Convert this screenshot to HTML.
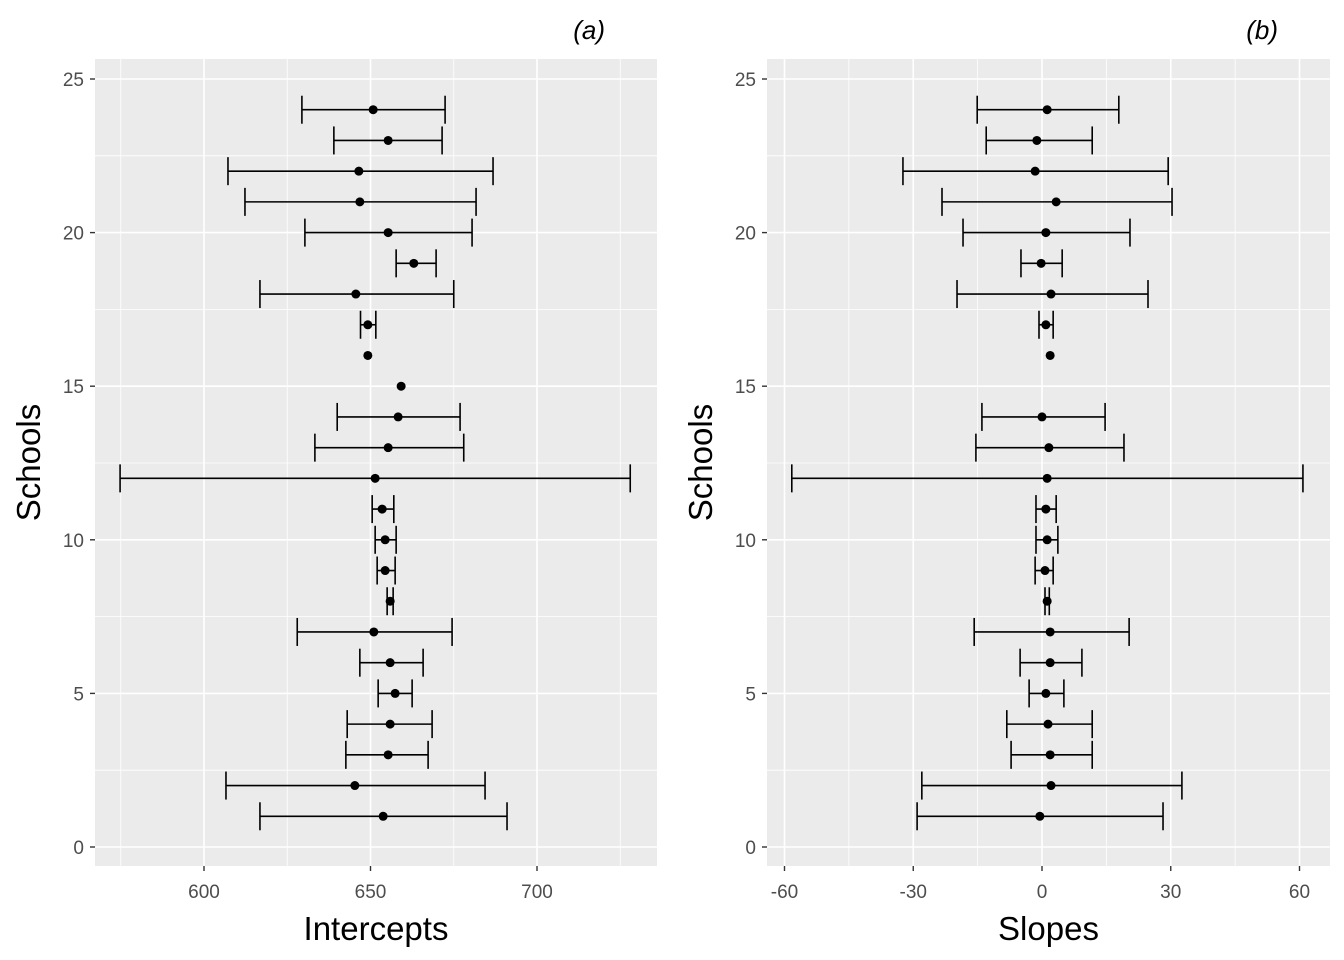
<!DOCTYPE html>
<html><head><meta charset="utf-8"><style>
body{margin:0;background:#fff;}
svg{display:block;font-family:"Liberation Sans",Arial,sans-serif;}
</style></head><body>
<svg id="c" width="1344" height="960"></svg>
<script>
const schools=[1,2,3,4,5,6,7,8,9,10,11,12,13,14,15,16,17,18,19,20,21,22,23,24];
const intPt=[653.8,645.3,655.3,655.9,657.4,655.9,651,655.9,654.4,654.4,653.5,651.4,655.3,658.3,659.2,649.2,649.2,645.6,663,655.3,646.8,646.5,655.3,650.8];
const intLo=[616.8,606.6,642.6,643,652.3,646.8,628,655,652,651.4,650.5,574.8,633.3,640,null,null,647,616.8,657.7,630.3,612.3,607.2,639,629.4];
const intHi=[691,684.4,667.3,668.5,662.5,665.8,674.5,656.8,657.4,657.7,657,728,678,676.9,null,null,651.6,675,669.7,680.5,681.7,686.8,671.5,672.4];
const slPt=[-0.5,2.1,1.9,1.4,0.9,1.9,1.9,1.2,0.7,1.2,0.9,1.2,1.6,0,null,1.9,0.9,2.1,-0.2,0.9,3.3,-1.6,-1.2,1.2];
const slLo=[-29.1,-28,-7.2,-8.2,-3,-5.1,-15.8,0.7,-1.6,-1.4,-1.4,-58.3,-15.4,-14,null,null,-0.7,-19.8,-4.9,-18.4,-23.3,-32.4,-13,-15.1];
const slHi=[28.2,32.6,11.7,11.7,5.1,9.3,20.3,1.7,2.6,3.7,3.3,60.8,19.1,14.7,null,null,2.6,24.7,4.7,20.5,30.3,29.4,11.7,17.9];
const intTicks=[600,650,700], intMinor=[575,625,675,725];
const slTicks=[-60,-30,0,30,60], slMinor=[-45,-15,15,45];
const yTicks=[0,5,10,15,20,25], yMinor=[2.5,7.5,12.5,17.5,22.5];
const svg=document.getElementById('c');
const NS='http://www.w3.org/2000/svg';
function el(t,a,p){const e=document.createElementNS(NS,t);for(const k in a)e.setAttribute(k,a[k]);(p||svg).appendChild(e);return e;}
const ys=v=>847-v*30.72;
function panel(name,L,R,x,ticks,minor,pt,lo,hi,xlab,tag){
  const g=el('g',{});
  
  
  const T=59,B=866;
  el('rect',{x:L,y:T,width:R-L,height:B-T,fill:'#ebebeb'},g);
  minor.forEach(v=>el('line',{x1:x(v),x2:x(v),y1:T,y2:B,stroke:'#fff','stroke-width':0.8},g));
  yMinor.forEach(v=>el('line',{x1:L,x2:R,y1:ys(v),y2:ys(v),stroke:'#fff','stroke-width':0.8},g));
  ticks.forEach(v=>{el('line',{x1:x(v),x2:x(v),y1:T,y2:B,stroke:'#fff','stroke-width':1.6},g);
    el('line',{x1:x(v),x2:x(v),y1:B,y2:B+5,stroke:'#333','stroke-width':1.4},g);
    const t=el('text',{x:x(v),y:B+32,'text-anchor':'middle','font-size':19,fill:'#4d4d4d'},g);t.textContent=v;
    
    });
  yTicks.forEach(v=>{el('line',{x1:L,x2:R,y1:ys(v),y2:ys(v),stroke:'#fff','stroke-width':1.6},g);
    el('line',{x1:L-5,x2:L,y1:ys(v),y2:ys(v),stroke:'#333','stroke-width':1.4},g);
    const t=el('text',{x:L-11,y:ys(v)+7,'text-anchor':'end','font-size':19,fill:'#4d4d4d'},g);t.textContent=v;
    
    });
  schools.forEach((s,i)=>{const y=ys(s);
    if(lo[i]!=null){const eb=el('g',{stroke:'#000','stroke-width':1.6},g);
      
      
      el('line',{x1:x(lo[i]),x2:x(hi[i]),y1:y,y2:y},eb);
      el('line',{x1:x(lo[i]),x2:x(lo[i]),y1:y-14,y2:y+14},eb);
      el('line',{x1:x(hi[i]),x2:x(hi[i]),y1:y-14,y2:y+14},eb);}
    if(pt[i]!=null){const c=el('circle',{cx:x(pt[i]),cy:y,r:4.5,fill:'#000'},g);
      
      }
  });
  const xl=el('text',{x:(L+R)/2,y:940,'text-anchor':'middle','font-size':33,fill:'#000'},g);xl.textContent=xlab;
  
  
  const yl=el('text',{transform:`translate(${L-55},${(T+B)/2}) rotate(-90)`,'text-anchor':'middle','font-size':33,fill:'#000'},g);yl.textContent='Schools';
  
  
  const tg=el('text',{x:R-52,y:39,'text-anchor':'end','font-size':26,'font-style':'italic',fill:'#000'},g);tg.textContent=tag;
  
  
}
panel('intercepts',95,657,v=>204+(v-600)*3.33,intTicks,intMinor,intPt,intLo,intHi,'Intercepts','(a)');
panel('slopes',767,1330,v=>1042+v*4.2917,slTicks,slMinor,slPt,slLo,slHi,'Slopes','(b)');
</script>
</body></html>
